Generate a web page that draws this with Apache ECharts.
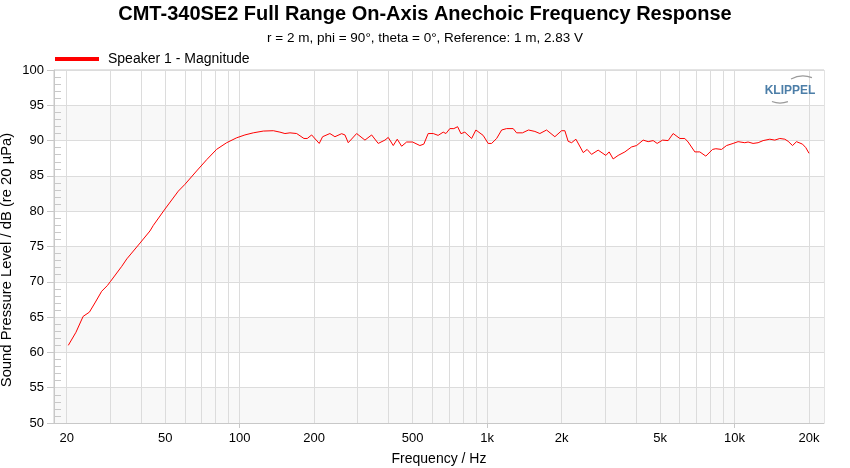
<!DOCTYPE html>
<html>
<head>
<meta charset="utf-8">
<title>CMT-340SE2 Frequency Response</title>
<script src="https://cdn.jsdelivr.net/npm/echarts@6/dist/echarts.min.js"></script>
<style>
  html, body { margin: 0; padding: 0; background: #fff; }
  #chart { width: 850px; height: 468px; }
</style>
</head>
<body>
<div id="chart"></div>
<script>
// measured curve, frequency in Hz and level in dB
const freqHz = [
  20.3, 21.8, 23.3, 24.7, 26.0, 27.7, 29.2, 30.1, 33.4, 35.0,
  39.6, 43.4, 44.8, 49.9, 56.5, 60.1, 67.0, 73.6, 80.7, 88.6,
  97.3, 105, 113.5, 124.6, 136.8, 145.5, 152.4, 159.7, 170, 181.9,
  187.6, 195.4, 209.7, 216.4, 231.6, 242.7, 258.3, 266.4, 274.7, 297,
  320.9, 341.5, 363.1, 386.5, 398.6, 417.6, 433.4, 451.5, 473, 500,
  535, 555, 578, 606, 634, 665, 682, 707, 734, 760,
  784, 813, 866, 901, 964, 1010, 1043, 1093, 1145, 1199,
  1275, 1316, 1390, 1470, 1560, 1634, 1739, 1879, 2000, 2062,
  2126, 2196, 2285, 2447, 2537, 2643, 2811, 3020, 3114, 3232,
  3386, 3605, 3836, 4019, 4273, 4477, 4690, 4868, 5119, 5392,
  5648, 6012, 6297, 6493, 6913, 7240, 7656, 8148, 8402, 8863,
  9284, 9868, 10336, 11000, 11345, 11883, 12454, 13046, 13884, 14547,
  15241, 15968, 16469, 17155, 17806, 18824, 19415, 20000
];
const splDb = [
  61.0, 62.85, 65.1, 65.7, 67.0, 68.66, 69.47, 70.08, 72.2, 73.25,
  75.5, 77.2, 78.0, 80.3, 82.84, 83.8, 85.7, 87.3, 88.76, 89.7,
  90.4, 90.8, 91.1, 91.35, 91.4, 91.2, 91.0, 91.1, 91.0, 90.3,
  90.3, 90.8, 89.6, 90.55, 91.0, 90.55, 90.98, 90.8, 89.7, 91.0,
  90.07, 90.8, 89.6, 90.07, 90.45, 89.3, 90.2, 89.2, 89.8, 89.8,
  89.3, 89.5, 91.0, 91.0, 90.74, 91.2, 91.0, 91.7, 91.7, 91.97,
  90.98, 91.2, 90.3, 91.5, 90.74, 89.6, 89.6, 90.3, 91.5, 91.7,
  91.7, 91.1, 91.1, 91.5, 91.3, 91.0, 91.5, 90.55, 91.4, 91.4,
  89.9, 89.7, 90.2, 88.3, 88.75, 88.05, 88.65, 87.9, 88.4, 87.4,
  87.9, 88.4, 89.1, 89.3, 90.07, 89.85, 90.0, 89.6, 90.07, 90.0,
  91.0, 90.3, 90.3, 89.8, 88.4, 88.4, 87.8, 88.75, 88.85, 88.75,
  89.3, 89.6, 89.85, 89.7, 89.8, 89.6, 89.7, 90.0, 90.2, 90.07,
  90.3, 90.2, 89.9, 89.3, 89.85, 89.5, 89.0, 88.2
];
const freqLabels = [20, 50, 100, 200, 500, 1000, 2000, 5000, 10000, 20000];
const freqGrid = [
  20, 30, 40, 50, 60, 70, 80, 90,
  100, 200, 300, 400, 500, 600, 700, 800, 900,
  1000, 2000, 3000, 4000, 5000, 6000, 7000, 8000, 9000,
  10000, 20000
];
const decadeTicks = [100, 1000, 10000];

const FONT = 'Liberation Sans, Arial, sans-serif';
const lg = v => Math.log10(v);
const fmtHz = v => {
  const f = Math.round(Math.pow(10, v));
  return f >= 1000 ? (f / 1000) + 'k' : String(f);
};

const chart = echarts.init(document.getElementById('chart'), null, { renderer: 'canvas' });

const option = {
  animation: false,
  backgroundColor: '#fff',
  title: [
    {
      text: 'CMT-340SE2 Full Range On-Axis Anechoic Frequency Response',
      left: 'center',
      top: -1,
      textStyle: { fontFamily: FONT, fontSize: 20, fontWeight: 'bold', color: '#000' }
    },
    {
      text: 'r = 2 m, phi = 90°, theta = 0°, Reference: 1 m, 2.83 V',
      left: 'center',
      top: 26,
      textStyle: { fontFamily: FONT, fontSize: 13.5, fontWeight: 'normal', color: '#000' }
    }
  ],
  legend: {
    left: 50,
    top: 47,
    icon: 'rect',
    itemWidth: 44,
    itemHeight: 4,
    textStyle: { fontFamily: FONT, fontSize: 14, color: '#000', padding: [0, 0, 0, 4] },
    data: ['Speaker 1 - Magnitude']
  },
  grid: {
    left: 54,
    right: 26,
    top: 70,
    height: 353,
    outerBoundsMode: 'none',
    show: true,
    borderColor: '#c8c8c8',
    borderWidth: 1,
    backgroundColor: 'transparent'
  },
  xAxis: [
    {
      type: 'value',
      min: 1.2497,
      max: 4.3616,
      name: 'Frequency / Hz',
      nameLocation: 'middle',
      nameGap: 29,
      nameTextStyle: { fontFamily: FONT, fontSize: 14, color: '#000' },
      axisLine: { show: true, lineStyle: { color: '#c8c8c8' } },
      axisTick: { show: false, customValues: freqGrid.map(lg) },
      axisLabel: {
        customValues: freqLabels.map(lg),
        formatter: fmtHz,
        fontFamily: FONT,
        fontSize: 13,
        color: '#000',
        margin: 9
      },
      splitLine: { show: true, lineStyle: { color: '#dcdcdc', width: 1 } }
    },
    {
      type: 'value',
      min: 1.2497,
      max: 4.3616,
      position: 'bottom',
      axisLine: { show: false },
      axisTick: { show: true, customValues: decadeTicks.map(lg), length: 5, lineStyle: { color: '#c8c8c8' } },
      axisLabel: { show: false },
      splitLine: { show: false }
    }
  ],
  yAxis: {
    type: 'value',
    min: 50,
    max: 100,
    interval: 5,
    axisLine: { show: true, lineStyle: { color: '#c8c8c8' } },
    axisTick: { show: true, length: 7, lineStyle: { color: '#c8c8c8' } },
    minorTick: { show: true, splitNumber: 5, length: -7, lineStyle: { color: '#c8c8c8' } },
    axisLabel: { fontFamily: FONT, fontSize: 13, color: '#000', margin: 10 },
    splitLine: { show: true, lineStyle: { color: '#dcdcdc', width: 1 } },
    splitArea: { show: true, areaStyle: { color: ['#f8f8f8', '#ffffff'] } }
  },
  graphic: [
    {
      type: 'text',
      x: 7,
      y: 260,
      rotation: Math.PI / 2,
      z: 100,
      style: {
        text: 'Sound Pressure Level / dB (re 20 µPa)',
        font: '14.8px ' + FONT,
        fill: '#000',
        textAlign: 'center',
        textVerticalAlign: 'middle'
      },
      silent: true
    },
    {
      type: 'text',
      x: 790,
      y: 91,
      z: 100,
      style: {
        text: 'KLIPPEL',
        font: 'bold 12px ' + FONT,
        fill: '#4c7ea8',
        textAlign: 'center',
        textVerticalAlign: 'middle'
      },
      silent: true
    },
    {
      type: 'arc',
      z: 100,
      shape: { cx: 803, cy: 102, r: 26, startAngle: -2.05, endAngle: -1.22 },
      style: { stroke: '#9a9a9a', lineWidth: 1.2, fill: null },
      silent: true
    },
    {
      type: 'arc',
      z: 100,
      shape: { cx: 780, cy: 80, r: 23, startAngle: 1.22, endAngle: 1.93 },
      style: { stroke: '#9a9a9a', lineWidth: 1.2, fill: null },
      silent: true
    }
  ],
  series: [
    {
      name: 'Speaker 1 - Magnitude',
      type: 'line',
      xAxisIndex: 0,
      showSymbol: false,
      symbol: 'none',
      smooth: false,
      color: '#ff0000',
      lineStyle: { color: '#ff0000', width: 1 },
      data: freqHz.map((f, i) => [lg(f), splDb[i]])
    }
  ]
};

chart.setOption(option);
</script>
</body>
</html>
